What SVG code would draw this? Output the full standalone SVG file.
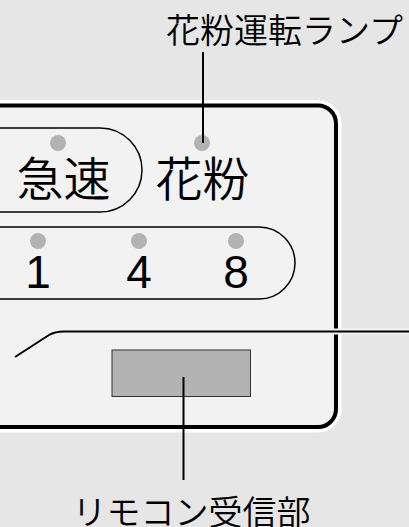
<svg xmlns="http://www.w3.org/2000/svg" width="409" height="527" viewBox="0 0 409 527">
  <style>
    .jp { font-family: "Noto Sans CJK JP", "Noto Sans", sans-serif; font-weight: 350; fill: #000; }
    .num { font-family: "Liberation Sans", Arial, sans-serif; fill: #000; }
    .lamp { fill: #b3b3b3; }
    .pill { fill: none; stroke: #000; stroke-width: 1.5; }
    .leader { stroke: #000; stroke-width: 2; fill: none; }
  </style>
  <rect x="0" y="0" width="409" height="527" fill="#e6e6e6"/>
  <g id="panel">
    <rect x="-50" y="105.5" width="386" height="321.5" rx="18" fill="none" stroke="#ffffff" stroke-width="11"/>
    <rect x="-50" y="105.5" width="386" height="321.5" rx="18" fill="#f2f2f2" stroke="#000" stroke-width="4"/>
  </g>
  <g id="pill-kyusoku">
    <rect class="pill" x="-100" y="128" width="242" height="84" rx="42"/>
    <circle class="lamp" cx="58" cy="143" r="8"/>
    <text class="jp" x="63.5" y="196" font-size="47" text-anchor="middle">急速</text>
  </g>
  <g id="kafun">
    <circle class="lamp" cx="202" cy="143" r="8"/>
    <text class="jp" x="202.5" y="196" font-size="47" text-anchor="middle">花粉</text>
  </g>
  <g id="pill-timer">
    <rect class="pill" x="-100" y="227" width="395" height="72" rx="36"/>
    <circle class="lamp" cx="38" cy="241" r="8"/>
    <circle class="lamp" cx="139" cy="241" r="8"/>
    <circle class="lamp" cx="236" cy="241" r="8"/>
    <text class="num" x="38" y="288" font-size="46" text-anchor="middle">1</text>
    <text class="num" x="139" y="288" font-size="46" text-anchor="middle">4</text>
    <text class="num" x="236" y="288" font-size="46" text-anchor="middle">8</text>
  </g>
  <g id="edge-line">
    <path d="M15,357 L49,335 Q55,331.5 64,331.5 L420,331.5" fill="none" stroke="#f2f2f2" stroke-width="6"/>
    <path d="M15,357 L49,335 Q55,331.5 64,331.5 L420,331.5" fill="none" stroke="#000" stroke-width="2"/>
  </g>
  <g id="receiver">
    <rect x="112" y="350" width="138.5" height="46.5" fill="#b3b3b3" stroke="#333" stroke-width="1"/>
  </g>
  <g id="connectors">
    <line class="leader" x1="203" y1="52" x2="203" y2="143"/>
    <line class="leader" x1="183.5" y1="377" x2="183.5" y2="480"/>
  </g>
  <g id="label-lamp">
    <text class="jp" x="284.5" y="43" font-size="34" text-anchor="middle">花粉運転ランプ</text>
  </g>
  <g id="label-receiver">
    <text class="jp" x="191.5" y="525" font-size="34" text-anchor="middle">リモコン受信部</text>
  </g>
</svg>
